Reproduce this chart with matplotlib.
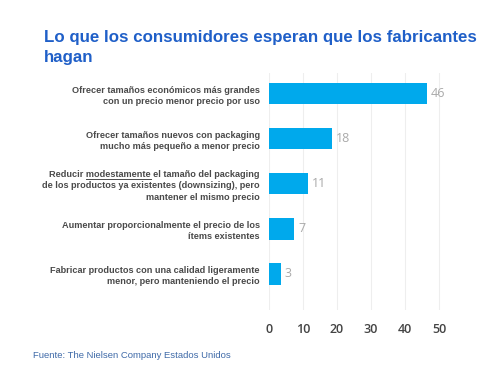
import matplotlib.pyplot as plt
import numpy as np

# Data
categories = [
    'Ofrecer tamaños económicos más grandes\ncon un precio menor precio por uso',
    'Ofrecer tamaños nuevos con packaging\nmucho más pequeño a menor precio',
    'Reducir modestamente el tamaño del packaging\nde los productos ya existentes (downsizing), pero\nmantener el mismo precio',
    'Aumentar proporcionalmente el precio de los\nítems existentes',
    'Fabricar productos con una calidad ligeramente\nmenor, pero manteniendo el precio',
]
values = [46.4, 18.4, 11.4, 7.4, 3.4]
value_labels = ['46', '18', '11', '7', '3']
xticks = [0, 10, 20, 30, 40, 50]

title = 'Lo que los consumidores esperan que los fabricantes\nhagan'
source = 'Fuente: The Nielsen Company Estados Unidos'

plt.rcParams['font.family'] = ['Liberation Sans', 'DejaVu Sans']

fig = plt.figure(figsize=(5, 3.83), dpi=100)
ax = fig.add_axes([0.538, 0.1906, 0.3536, 0.618])

y_pos = np.arange(len(categories))
bars = ax.barh(y_pos, values, height=0.47, color='#00a9ec', zorder=3)

for rect, lab in zip(bars, value_labels):
    ax.annotate(lab, xy=(rect.get_width(), rect.get_y() + rect.get_height() / 2),
                xytext=(3, 0), textcoords='offset points', ha='left', va='center',
                fontsize=9, color='#aaaaaa', family='Open Sans')

ax.set_xlim(0, 52)
ax.set_ylim(4.8, -0.456)
ax.set_xticks(xticks)
ax.set_xticklabels([str(t) for t in xticks], fontsize=9, color='#444444',
                   family='Open Sans', fontweight='semibold')
ax.set_yticks(y_pos)
label_size = 6.6
ax.set_yticklabels(categories, fontsize=label_size, fontweight='bold', color='#4a4a4a',
                   ha='right', multialignment='right', linespacing=1.3)
ax.tick_params(axis='both', length=0)
ax.tick_params(axis='y', pad=6.5)
ax.tick_params(axis='x', pad=9)
for s in ax.spines.values():
    s.set_visible(False)
ax.grid(axis='x', color='#eeeeee', linewidth=0.8, zorder=0)

fig.text(0.088, 0.922, title, fontsize=12.2, fontweight='bold', color='#1f5fc8',
         va='top', ha='left', linespacing=1.45)
fig.text(0.066, 0.073, source, fontsize=6.8, color='#3f6aa8', ha='left', va='center')

# underline "modestamente" in the third label
fig.canvas.draw()
renderer = fig.canvas.get_renderer()
lbl = ax.get_yticklabels()[2]
bb = lbl.get_window_extent(renderer)
first_line = categories[2].split('\n')[0]
props = dict(fontsize=label_size, fontweight='bold')
def width_of(s):
    t = fig.text(0, 0, s, **props)
    w = t.get_window_extent(renderer).width
    t.remove()
    return w
w_full = width_of(first_line)
w_pre = width_of('Reducir ')
w_word = width_of('Reducir modestamente')
x_start = bb.x1 - w_full
line_h = bb.height / 3
y_ul = bb.y1 - line_h + 1.5
inv = fig.transFigure.inverted()
(x0, y0) = inv.transform((x_start + w_pre, y_ul))
(x1, _) = inv.transform((x_start + w_word, y_ul))
fig.add_artist(plt.Line2D([x0, x1], [y0, y0], color='#4a4a4a', linewidth=0.7))

fig.savefig('out.png', dpi=100, facecolor='white')
